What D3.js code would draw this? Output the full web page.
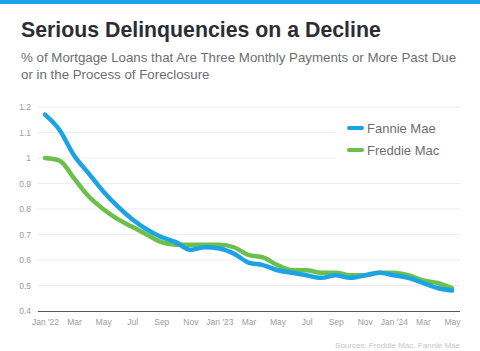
<!DOCTYPE html>
<html><head><meta charset="utf-8">
<script src="https://cdn.jsdelivr.net/npm/d3@7"></script>
<style>body{margin:0;background:#fff;font-family:Arial,"Liberation Sans",sans-serif}</style>
</head><body>
<svg id="c" width="480" height="351"></svg>
<script>
const months = ["Jan '22","Feb","Mar","Apr","May","Jun","Jul","Aug","Sep","Oct","Nov","Dec",
"Jan '23","Feb","Mar","Apr","May","Jun","Jul","Aug","Sep","Oct","Nov","Dec",
"Jan '24","Feb","Mar","Apr","May"];
const fannieMae = [1.17,1.11,1.01,0.94,0.87,0.81,0.76,0.72,0.69,0.67,0.64,0.65,0.645,0.625,0.59,0.58,0.56,0.55,0.54,0.53,0.54,0.53,0.54,0.55,0.54,0.53,0.51,0.49,0.48];
const freddieMac = [1.00,0.99,0.92,0.85,0.80,0.76,0.73,0.70,0.67,0.66,0.66,0.66,0.66,0.65,0.62,0.61,0.58,0.56,0.56,0.55,0.55,0.54,0.54,0.55,0.55,0.54,0.52,0.51,0.49];
const yTicks = [0.4,0.5,0.6,0.7,0.8,0.9,1,1.1,1.2];
const seriesNames = ["Fannie Mae","Freddie Mac"];
const colors = ["#1ba3e3","#6dbf4b"];

const svg = d3.select("#c");
svg.append("rect").attr("x",0).attr("y",0).attr("width",480).attr("height",4).attr("fill","#1aa3e8");

svg.append("text").attr("x",21).attr("y",37).attr("font-size",21.3).attr("font-weight","bold")
  .attr("fill","#2b2d33").text("Serious Delinquencies on a Decline");
svg.append("text").attr("x",21).attr("y",62).attr("font-size",13.3).attr("fill","#6b6e72")
  .text("% of Mortgage Loans that Are Three Monthly Payments or More Past Due");
svg.append("text").attr("x",21).attr("y",79).attr("font-size",13.3).attr("fill","#6b6e72")
  .text("or in the Process of Foreclosure");

const x = d3.scalePoint().domain(d3.range(months.length)).range([45,452]);
const y = d3.scaleLinear().domain([0.4,1.2]).range([311,107]);

svg.append("g").selectAll("line").data(yTicks.slice(1)).join("line")
  .attr("x1",38).attr("x2",460).attr("y1",d=>y(d)).attr("y2",d=>y(d))
  .attr("stroke","#ececec").attr("stroke-width",1);

const yAxis = d3.axisLeft(y).tickValues(yTicks).tickSize(0).tickPadding(0)
  .tickFormat(d=>d3.format("")(+d.toFixed(1)));
const gy = svg.append("g").attr("transform","translate(31,0)").call(yAxis);
gy.select(".domain").remove();
gy.selectAll("text").attr("font-size",8.5).attr("fill","#9a9ca0").attr("font-family","Arial,'Liberation Sans',sans-serif");

const labelIdx = d3.range(0,months.length,2);
const xAxis = d3.axisBottom(x).tickValues(labelIdx).tickSize(0).tickPadding(8)
  .tickFormat(i=>months[i]);
const gx = svg.append("g").attr("transform","translate(0,311)").call(xAxis);
gx.select(".domain").remove();
gx.selectAll("text").attr("font-size",8.5).attr("fill","#9a9ca0").attr("font-family","Arial,'Liberation Sans',sans-serif");
svg.append("line").attr("x1",38).attr("x2",460).attr("y1",311.5).attr("y2",311.5)
  .attr("stroke","#55585c").attr("stroke-width",1.2);

const line = d3.line().x((d,i)=>x(i)).y(d=>y(d)).curve(d3.curveMonotoneX);
[[freddieMac,1],[fannieMae,0]].forEach(([s,ci])=>{
  svg.append("path").attr("d",line(s)).attr("fill","none").attr("stroke",colors[ci])
    .attr("stroke-width",4.5).attr("stroke-linejoin","round").attr("stroke-linecap","round");
});

svg.append("rect").attr("x",336).attr("y",110).attr("width",126).attr("height",50).attr("fill","#fff");
seriesNames.forEach((n,i)=>{
  const ly = 128 + i*22;
  svg.append("line").attr("x1",349).attr("x2",362).attr("y1",ly).attr("y2",ly)
    .attr("stroke",colors[i]).attr("stroke-width",4).attr("stroke-linecap","round");
  svg.append("text").attr("x",367).attr("y",ly+4.5).attr("font-size",13).attr("fill","#6b6e72").text(n);
});

svg.append("text").attr("x",460).attr("y",348).attr("text-anchor","end").attr("font-size",8)
  .attr("fill","#c4c6c9").text("Sources: Freddie Mac, Fannie Mae");
</script>
</body></html>
